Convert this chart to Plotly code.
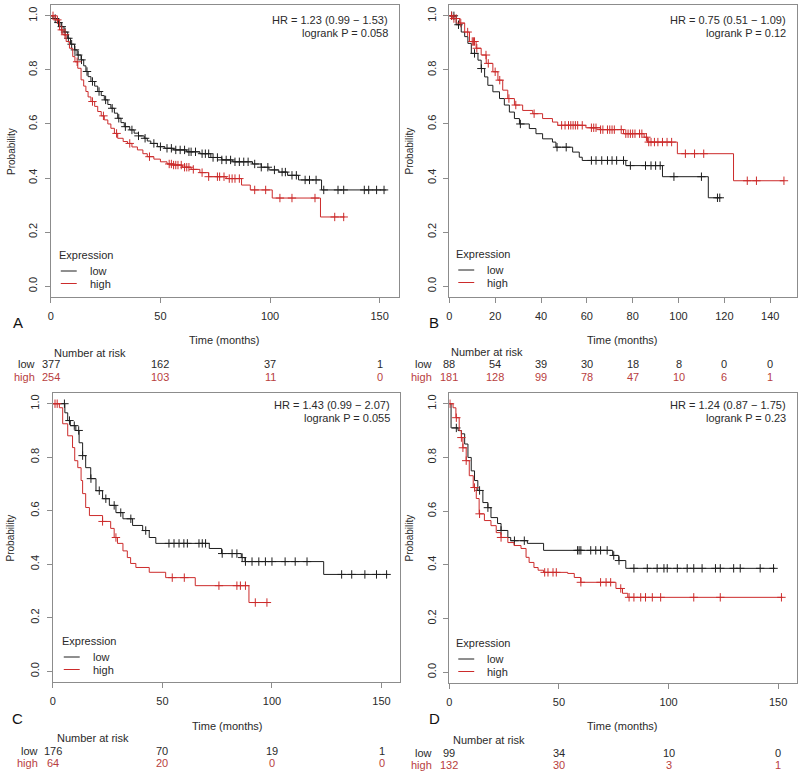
import numpy as np
import plotly.graph_objects as go

# ---------------- DATA ----------------
# Panel A
A_low_t = [1, 3, 4.7, 6, 7.7, 9, 10.8, 12, 13.8, 15, 16, 17, 18.3, 20, 21.4, 23, 24.4, 26, 27.4, 29, 30.5, 32, 33.5,
           36, 38, 40, 42.6, 44, 45.6, 48.6, 52, 56, 62, 68, 73, 78, 83, 92, 96, 99.5, 104, 108, 113, 123.5]
A_low_s = [0.99, 0.975, 0.96, 0.94, 0.917, 0.895, 0.874, 0.855, 0.837, 0.815, 0.794, 0.775, 0.757, 0.74, 0.72, 0.705,
           0.689, 0.672, 0.658, 0.64, 0.621, 0.605, 0.59, 0.578, 0.566, 0.556, 0.547, 0.537, 0.528, 0.516, 0.51, 0.504,
           0.497, 0.49, 0.476, 0.467, 0.46, 0.452, 0.44, 0.43, 0.422, 0.41, 0.393, 0.356]
A_low_end = 153
A_low_cens = [2, 3.5, 5, 6.5, 8, 9.5, 11, 12.5, 14, 16.5, 19, 22, 25, 28, 31, 34, 37, 40, 43, 47, 50, 53, 55, 57, 59,
              61, 63, 64, 66, 69, 70.5, 72, 74, 76, 78, 80, 82, 84, 86, 88, 90, 93, 96, 99, 102, 105.5, 107, 110, 112,
              116, 118, 121, 124.5, 131, 133.6, 143, 145, 148.6, 152]
A_high_t = [2, 4, 5.5, 7, 8.5, 10, 11, 12.3, 13.8, 15, 16, 17, 18.3, 20, 21.4, 23, 24.4, 26, 27.4, 29, 30.5, 33, 35,
            37, 39.5, 42, 44, 47, 50, 53, 56, 60, 64, 68, 72, 80, 87, 91, 101, 123]
A_high_s = [0.985, 0.948, 0.93, 0.905, 0.88, 0.849, 0.83, 0.806, 0.763, 0.74, 0.72, 0.70, 0.683, 0.665, 0.646, 0.63,
            0.615, 0.60, 0.584, 0.565, 0.547, 0.535, 0.528, 0.515, 0.504, 0.49, 0.479, 0.47, 0.46, 0.452, 0.448, 0.44,
            0.432, 0.42, 0.405, 0.398, 0.374, 0.356, 0.326, 0.256]
A_high_end = 134
A_high_cens = [1, 3, 5, 6.5, 12, 19, 24, 30, 36, 45, 54, 55, 56, 57, 58, 59.5, 61, 62, 63, 65, 69, 72, 76, 77, 79,
               81.4, 82.7, 84, 86, 93, 98, 104.5, 110, 120.5, 129.5, 133.6]
A_ticks = [0, 50, 100, 150]
A_risk_low = [377, 162, 37, 1]
A_risk_high = [254, 103, 11, 0]

# Panel B
B_low_t = [3, 5.2, 6.7, 8.1, 9.6, 12.5, 13.9, 15.4, 16.8, 19, 21.9, 24, 26.2, 28.4, 30.6, 34.9, 37.8, 40.7, 45, 46.5,
           53.8, 56.7, 58, 77, 93, 113]
B_low_s = [0.967, 0.94, 0.923, 0.898, 0.861, 0.836, 0.805, 0.774, 0.743, 0.719, 0.694, 0.67, 0.644, 0.62, 0.60, 0.583,
           0.564, 0.545, 0.533, 0.514, 0.496, 0.477, 0.465, 0.446, 0.405, 0.327]
B_low_end = 118
B_low_cens = [1, 2, 4, 11, 14, 31, 47, 51, 62, 64, 66.5, 69, 71, 73, 76, 79, 85.6, 88, 90, 92, 98, 110, 117, 118]
B_high_t = [1.5, 4.5, 6.7, 8.8, 11.7, 13.9, 16.1, 19, 21.2, 23.3, 25.5, 28.4, 32, 36.4, 40.7, 45, 47.3, 59.6, 66, 76,
            85, 86.5, 99.5, 124]
B_high_s = [0.99, 0.973, 0.94, 0.905, 0.88, 0.855, 0.824, 0.793, 0.762, 0.725, 0.694, 0.67, 0.65, 0.638, 0.62, 0.607,
            0.595, 0.586, 0.579, 0.564, 0.551, 0.533, 0.49, 0.39]
B_high_end = 146
B_high_cens = [1, 2, 3, 5, 8, 10, 10.5, 11, 12, 16, 17, 20, 22, 26, 29, 37, 49, 50.5, 52, 53, 54, 55, 56, 58, 62, 63,
               64, 66, 67, 69, 70, 71, 72, 75, 77, 78, 79, 80, 81, 83, 84, 86, 87, 88, 89.5, 91, 93, 95, 97, 103, 107,
               111, 130, 134, 146]
B_ticks = [0, 20, 40, 60, 80, 100, 120, 140]
B_risk_low = [88, 54, 39, 30, 18, 8, 0, 0]
B_risk_high = [181, 128, 99, 78, 47, 10, 6, 1]

# Panel C
C_low_t = [5.5, 6.8, 8, 10.5, 12, 13.6, 15, 17.3, 19.7, 22.7, 25.8, 28.8, 32, 36.4, 41, 44, 47, 71.4, 77, 86, 87.7,
           123.6]
C_low_s = [0.966, 0.937, 0.918, 0.90, 0.854, 0.806, 0.761, 0.72, 0.675, 0.645, 0.62, 0.593, 0.57, 0.545, 0.526, 0.50,
           0.478, 0.459, 0.44, 0.425, 0.41, 0.362]
C_low_end = 153
C_low_cens = [5.3, 7.6, 9.8, 11.8, 13.6, 17.4, 21.2, 24.2, 28, 31, 35.6, 42.4, 53, 55.3, 57.6, 59.8, 61.4, 66.7, 68.2,
              69.7, 77.3, 81.8, 84, 86.4, 87.9, 90.9, 94, 97, 100, 106, 110.6, 116, 131.8, 136.4, 142.4, 147.7, 152.3]
C_high_t = [3, 4.5, 6.8, 9, 10, 11.4, 12.9, 13.6, 15, 16.7, 22.7, 26.4, 28, 29.5, 32, 34, 35.5, 37.9, 44, 51.5, 65,
            89.5]
C_high_s = [0.985, 0.925, 0.88, 0.836, 0.787, 0.761, 0.713, 0.664, 0.612, 0.582, 0.56, 0.534, 0.50, 0.478, 0.45, 0.425,
            0.403, 0.388, 0.37, 0.35, 0.32, 0.257]
C_high_end = 98.6
C_high_cens = [1, 2, 22.7, 28.8, 54.5, 60, 75.8, 84, 85.6, 87.9, 92.4, 97.7]
C_ticks = [0, 50, 100, 150]
C_risk_low = [176, 70, 19, 1]
C_risk_high = [64, 20, 0, 0]

# Panel D
D_low_t = [0.8, 4, 5.5, 7, 8.5, 10, 11.5, 13, 15.3, 17.6, 19, 22, 23.6, 26.7, 28, 35.6, 43, 74.5, 77.3, 80.5]
D_low_s = [0.91, 0.90, 0.888, 0.85, 0.80, 0.75, 0.714, 0.677, 0.632, 0.613, 0.576, 0.554, 0.528, 0.502, 0.49, 0.48,
           0.454, 0.435, 0.416, 0.387]
D_low_end = 148.6
D_low_cens = [3.2, 13.8, 17.6, 23.6, 29.7, 34.2, 58.5, 59.2, 60, 64.5, 66.8, 69, 72, 75, 77.4, 84.2, 90.3, 94.8, 97.9,
              99.4, 104, 108.5, 111.5, 115.3, 121.4, 123.6, 129.7, 132.7, 141.8, 147.9]
D_high_t = [1.7, 3, 4.5, 5.5, 6.2, 7.7, 9.1, 10.9, 12.3, 13.6, 16, 19, 21.4, 23.6, 26.7, 29.5, 32.7, 35, 36.4, 38.6,
            40.5, 43, 54, 57, 60, 76, 79, 81.4]
D_high_s = [0.985, 0.948, 0.90, 0.874, 0.836, 0.788, 0.732, 0.688, 0.647, 0.59, 0.565, 0.546, 0.52, 0.502, 0.483, 0.472,
            0.461, 0.428, 0.409, 0.39, 0.38, 0.372, 0.368, 0.353, 0.335, 0.312, 0.294, 0.279]
D_high_end = 152
D_high_cens = [0.3, 3.2, 5.5, 6.2, 7.7, 11.5, 13.8, 23.6, 43.5, 45, 47.3, 48.8, 60, 69, 71.5, 73.6, 78.2, 82, 84.2,
               87.3, 89.5, 92.6, 96.4, 111.5, 123.6, 151.5]
D_ticks = [0, 50, 100, 150]
D_risk_low = [99, 34, 10, 0]
D_risk_high = [132, 30, 3, 1]

HR_text = ["HR = 1.23 (0.99 \u2212 1.53)", "HR = 0.75 (0.51 \u2212 1.09)",
           "HR = 1.43 (0.99 \u2212 2.07)", "HR = 1.24 (0.87 \u2212 1.75)"]
P_text = ["logrank P = 0.058", "logrank P = 0.12", "logrank P = 0.055", "logrank P = 0.23"]
panel_letters = ["A", "B", "C", "D"]

# ---------------- STYLE / LAYOUT ----------------
W, H = 800, 772
FONT = "Liberation Sans, Arial, Helvetica, sans-serif"
BLACK = "#1e1e1e"
RED = "#cc2b2b"
RED_TXT = "#b8403e"
BOX = "#8c8c8c"
TXT = "#2a2a2a"


def px(x):
    return x / W


def py(y):
    return 1 - y / H


panels = [
    dict(t=[A_low_t, A_high_t], s=[A_low_s, A_high_s], e=[A_low_end, A_high_end], c=[A_low_cens, A_high_cens],
         ticks=A_ticks, rl=A_risk_low, rh=A_risk_high, xr=[0, 158.6],
         box=(48, 397, 5, 297), hr=(388, 20), leg=(54, 255), letter=(15, 323), time=(222, 340), nar=(49, 353),
         rows=(364, 377), lab=34),
    dict(t=[B_low_t, B_high_t], s=[B_low_s, B_high_s], e=[B_low_end, B_high_end], c=[B_low_cens, B_high_cens],
         ticks=B_ticks, rl=B_risk_low, rh=B_risk_high, xr=[0, 151.7],
         box=(448, 797, 5, 297), hr=(788, 20), leg=(453, 254), letter=(433, 323), time=(622, 340), nar=(448, 352),
         rows=(364, 377), lab=433),
    dict(t=[C_low_t, C_high_t], s=[C_low_s, C_high_s], e=[C_low_end, C_high_end], c=[C_low_cens, C_high_cens],
         ticks=C_ticks, rl=C_risk_low, rh=C_risk_high, xr=[0, 158.2],
         box=(50, 398, 393, 682), hr=(390, 405), leg=(57, 641), letter=(15, 718), time=(225, 726), nar=(52, 738),
         rows=(751, 763), lab=37),
    dict(t=[D_low_t, D_high_t], s=[D_low_s, D_high_s], e=[D_low_end, D_high_end], c=[D_low_cens, D_high_cens],
         ticks=D_ticks, rl=D_risk_low, rh=D_risk_high, xr=[0, 158.6],
         box=(448, 797, 393, 683), hr=(788, 405), leg=(453, 643), letter=(433, 718), time=(622, 726), nar=(450, 740),
         rows=(753, 765), lab=433),
]

fig = go.Figure()
annotations = []
shapes = []

for i, p in enumerate(panels):
    k = i + 1
    xa = "x" if k == 1 else f"x{k}"
    ya = "y" if k == 1 else f"y{k}"
    x0, x1, y0, y1 = p["box"]
    for j, col in enumerate([BLACK, RED]):
        t = np.array(p["t"][j], dtype=float)
        s = np.array(p["s"][j], dtype=float)
        tf = np.concatenate([[0.0], t])
        sf = np.concatenate([[1.0], s])
        xs = np.concatenate([tf, [p["e"][j]]])
        ys = np.concatenate([sf, [sf[-1]]])
        fig.add_trace(go.Scatter(x=xs, y=ys, mode="lines", line=dict(color=col, width=1, shape="hv"),
                                 xaxis=xa, yaxis=ya, showlegend=False, hoverinfo="skip"))
        tc = np.array(p["c"][j], dtype=float)
        idx = np.searchsorted(tf, tc, side="right") - 1
        fig.add_trace(go.Scatter(x=tc, y=sf[idx], mode="markers",
                                 marker=dict(symbol="cross-thin", size=6, line=dict(color=col, width=1)),
                                 xaxis=xa, yaxis=ya, showlegend=False, hoverinfo="skip"))

    axis_common = dict(showline=True, mirror=True, linecolor=BOX, linewidth=1, ticks="outside", ticklen=5,
                       tickcolor=BOX, showgrid=False, zeroline=False,
                       tickfont=dict(family=FONT, size=11, color=TXT))
    fig.update_layout(**{
        ("xaxis" if k == 1 else f"xaxis{k}"): dict(axis_common, domain=[px(x0), px(x1)], range=p["xr"],
                                                  tickvals=p["ticks"], anchor=ya, ticklabelstandoff=4),
        ("yaxis" if k == 1 else f"yaxis{k}"): dict(axis_common, domain=[py(y1), py(y0)], range=[-0.04, 1.04],
                                                  tickvals=[0, 0.2, 0.4, 0.6, 0.8, 1.0], tickformat=".1f",
                                                  tickangle=-90, anchor=xa, ticklabelstandoff=3),
    })

    annotations.append(dict(x=px(p["hr"][0]), y=py(p["hr"][1]), xref="paper", yref="paper", text=HR_text[i],
                            showarrow=False, xanchor="right", yanchor="middle",
                            font=dict(family=FONT, size=11, color=TXT)))
    annotations.append(dict(x=px(p["hr"][0]), y=py(p["hr"][1] + 13), xref="paper", yref="paper", text=P_text[i],
                            showarrow=False, xanchor="right", yanchor="middle",
                            font=dict(family=FONT, size=11, color=TXT)))
    annotations.append(dict(x=px(8 if k in (1, 3) else 408), y=py((y0 + y1) / 2), xref="paper", yref="paper",
                            text="Probability", textangle=-90, showarrow=False, xanchor="center", yanchor="middle",
                            font=dict(family=FONT, size=10, color=TXT)))
    lx, ly = p["leg"]
    annotations.append(dict(x=px(lx), y=py(ly), xref="paper", yref="paper", text="Expression", showarrow=False,
                            xanchor="left", yanchor="middle", font=dict(family=FONT, size=11, color=TXT)))
    for j, (lab, col) in enumerate([("low", BLACK), ("high", RED)]):
        yy = ly + 16 + 12.5 * j
        shapes.append(dict(type="line", xref="paper", yref="paper", x0=px(lx + 4), x1=px(lx + 20),
                           y0=py(yy), y1=py(yy), line=dict(color=col, width=1)))
        annotations.append(dict(x=px(lx + 31), y=py(yy), xref="paper", yref="paper", text=lab, showarrow=False,
                                xanchor="left", yanchor="middle", font=dict(family=FONT, size=11, color=TXT)))
    annotations.append(dict(x=px(p["letter"][0]), y=py(p["letter"][1]), xref="paper", yref="paper",
                            text=panel_letters[i], showarrow=False, xanchor="center", yanchor="middle",
                            font=dict(family=FONT, size=15, color="#111111")))
    annotations.append(dict(x=px(p["time"][0]), y=py(p["time"][1]), xref="paper", yref="paper",
                            text="Time (months)", showarrow=False, xanchor="center", yanchor="middle",
                            font=dict(family=FONT, size=11, color=TXT)))
    annotations.append(dict(x=px(p["nar"][0]), y=py(p["nar"][1]), xref="paper", yref="paper",
                            text="Number at risk", showarrow=False, xanchor="left", yanchor="middle",
                            font=dict(family=FONT, size=11, color=TXT)))
    for row, (lab, vals, col) in enumerate([("low", p["rl"], TXT), ("high", p["rh"], RED_TXT)]):
        yy = p["rows"][row]
        annotations.append(dict(x=px(p["lab"]), y=py(yy), xref="paper", yref="paper", text=lab,
                                showarrow=False, xanchor="right", yanchor="middle",
                                font=dict(family=FONT, size=11, color=col)))
        for tv, v in zip(p["ticks"], vals):
            annotations.append(dict(x=tv, y=py(yy), xref=xa, yref="paper", text=str(v), showarrow=False,
                                    xanchor="center", yanchor="middle",
                                    font=dict(family=FONT, size=11, color=col)))

fig.update_layout(width=W, height=H, margin=dict(l=0, r=0, t=0, b=0), paper_bgcolor="white",
                  plot_bgcolor="white", annotations=annotations, shapes=shapes, showlegend=False)
fig.write_html("out.html", config={"displayModeBar": False},
               post_script="document.body.style.margin='0';document.body.style.overflow='hidden';")
